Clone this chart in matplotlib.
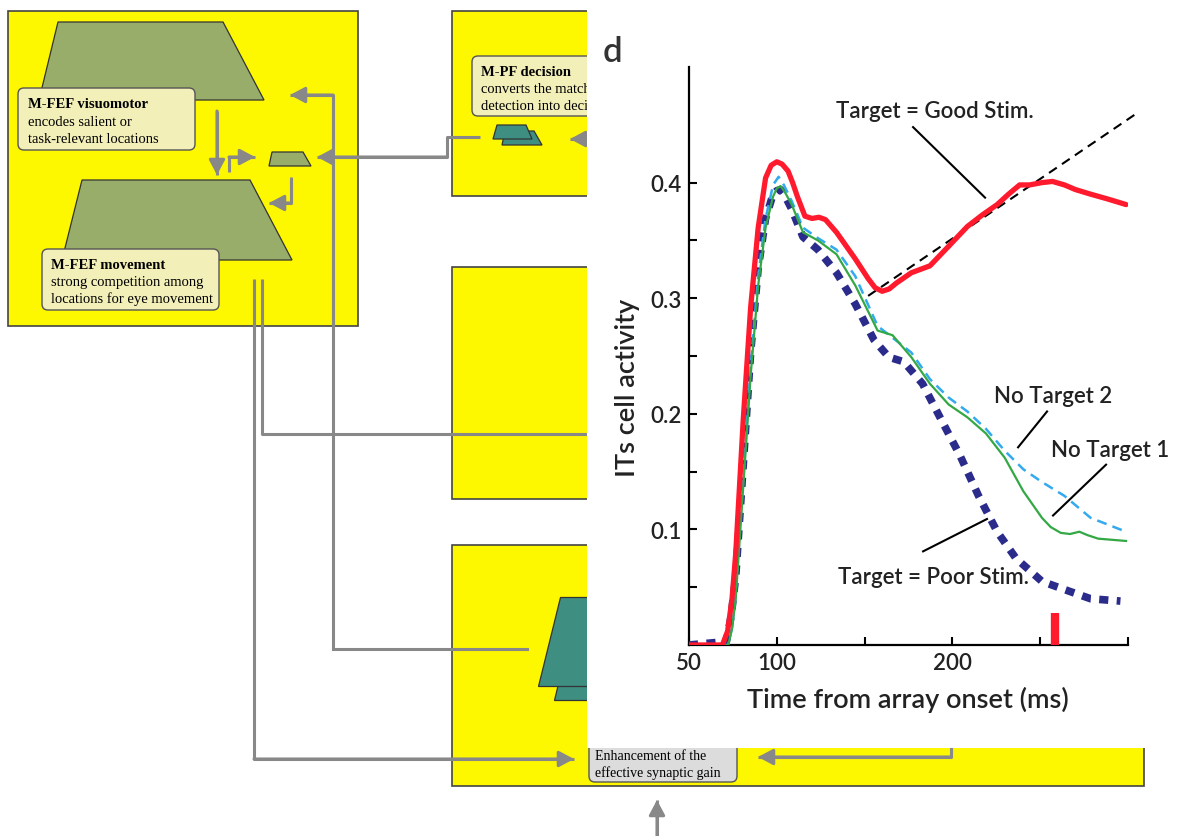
import matplotlib
matplotlib.use("Agg")
from matplotlib import pyplot as plt
from matplotlib.patches import Rectangle, Polygon, FancyBboxPatch
import numpy as np

# --- chart data (time in ms, ITs cell activity) ---
good_t = [50, 69, 72, 74.5, 76.6, 80.9, 85.1, 89.4, 93.6, 96.8, 100, 103, 106.4, 109, 111.7, 116,
          120, 124, 127.7, 134, 144.7, 152, 156, 160, 164, 168, 176.6, 187.2, 197.9, 208.5,
          217, 225.5, 232, 238.3, 244, 251, 257, 263.8, 270, 278.7, 288, 298.9]
good_y = [0, 0, 0.012, 0.04, 0.079, 0.195, 0.292, 0.361, 0.404, 0.415, 0.418, 0.416, 0.41, 0.40, 0.388, 0.371,
          0.369, 0.37, 0.368, 0.357, 0.334, 0.317, 0.309, 0.306, 0.308, 0.313, 0.322, 0.328, 0.345, 0.362,
          0.372, 0.381, 0.39, 0.398, 0.398, 0.400, 0.401, 0.398, 0.394, 0.390, 0.386, 0.381]

poor_t = [50, 71.3, 74, 76.6, 80.9, 85.1, 89.4, 93.6, 97.9, 100, 102.1, 104.5, 108.5, 114.9, 123.4, 134,
          144.7, 155.3, 163.8, 172.3, 183, 193.6, 204.3, 214.9, 225.5, 236.2, 251, 263.8, 278.7, 295.7]
poor_y = [0, 0.003, 0.025, 0.059, 0.156, 0.253, 0.326, 0.369, 0.390, 0.393, 0.394, 0.389, 0.377, 0.353,
          0.342, 0.322, 0.295, 0.264, 0.249, 0.245, 0.226, 0.195, 0.164, 0.129, 0.098, 0.075, 0.055,
          0.048, 0.040, 0.038]

notgt1_t = [50, 72.3, 74.5, 76.6, 80.9, 85.1, 89.4, 93.6, 97.9, 100, 102.1, 104.5, 108.5, 114.9, 123.4,
            134, 144.7, 157.4, 165.9, 176.6, 187.2, 197.9, 208.5, 219.1, 229.8, 240.4, 251, 256,
            261.7, 267, 272.3, 277, 283, 298.9]
notgt1_y = [0, 0, 0.014, 0.040, 0.137, 0.233, 0.311, 0.361, 0.388, 0.395, 0.397, 0.392, 0.381, 0.357,
            0.350, 0.338, 0.311, 0.272, 0.268, 0.249, 0.226, 0.208, 0.197, 0.183, 0.162, 0.133, 0.110,
            0.102, 0.097, 0.096, 0.098, 0.095, 0.092, 0.090]

notgt2_t = [50, 72.3, 74.5, 76.6, 80.9, 85.1, 89.4, 93.6, 97.9, 101, 104, 108.5, 114.9, 123.4, 134,
            144.7, 157.4, 176.6, 187.2, 197.9, 208.5, 219.1, 229.8, 240.4, 251, 263.8, 278.7, 298.9]
notgt2_y = [0, 0, 0.015, 0.044, 0.144, 0.241, 0.319, 0.369, 0.398, 0.405, 0.398, 0.384, 0.361, 0.352,
            0.342, 0.319, 0.276, 0.253, 0.230, 0.214, 0.202, 0.187, 0.168, 0.152, 0.141, 0.129, 0.110,
            0.098]

fit_t = [152, 306]
fit_y = [0.302, 0.461]

marker_t = 258.5
marker_h = 0.028

y_major = [0.1, 0.2, 0.3, 0.4]
y_minor = [0.05, 0.15, 0.25, 0.35]
x_major = [50, 100, 200]
x_minor = [150, 250, 300]

# --- colours ---
YELLOW = "#fdf700"
OLIVE = "#98ad6a"
TEAL = "#3f8e82"
PALE = "#f2efb8"
GREY = "#888888"
EDGE = "#444444"

fig = plt.figure(figsize=(11.81, 8.37), dpi=100)
fig.patch.set_facecolor("white")

# background diagram in pixel coordinates
bg = fig.add_axes([0, 0, 1, 1])
bg.set_xlim(0, 1181)
bg.set_ylim(837, 0)
bg.axis("off")


def box(x0, y0, x1, y1, fc=YELLOW, z=1):
    bg.add_patch(Rectangle((x0, y0), x1 - x0, y1 - y0, fc=fc, ec=EDGE, lw=1.2, zorder=z))


def poly(pts, fc, z=2):
    bg.add_patch(Polygon(pts, closed=True, fc=fc, ec="#333333", lw=0.9, zorder=z))


def label(x0, y0, x1, y1, fc=PALE):
    bg.add_patch(FancyBboxPatch((x0, y0), x1 - x0, y1 - y0,
                                boxstyle="round,pad=0,rounding_size=6",
                                fc=fc, ec="#555555", lw=1.0, zorder=3))


def arrow(pts, head=True):
    xs = [p[0] for p in pts]
    ys = [p[1] for p in pts]
    bg.plot(xs, ys, color=GREY, lw=2.2, zorder=4, solid_capstyle="butt")
    if head:
        bg.annotate("", xy=pts[-1], xytext=pts[-2],
                    arrowprops=dict(arrowstyle="-|>,head_length=0.6,head_width=0.32",
                                    mutation_scale=15, color=GREY, lw=2.2,
                                    shrinkA=0, shrinkB=0), zorder=5)


serif = ["Liberation Serif", "DejaVu Serif"]

# yellow panels
box(8, 12, 358, 327)
box(452, 12, 760, 197)
box(452, 268, 760, 500)
box(452, 546, 1144, 787)

# M-FEF visuomotor
poly([(58, 23), (223, 23), (264, 101), (39, 101)], OLIVE)
label(18, 89, 195, 151)
bg.text(28, 104, "M-FEF visuomotor", family=serif, fontsize=10.5, weight="bold", va="center", zorder=6)
bg.text(28, 122, "encodes salient or", family=serif, fontsize=10.5, va="center", zorder=6)
bg.text(28, 139, "task-relevant locations", family=serif, fontsize=10.5, va="center", zorder=6)

poly([(272, 153), (303, 153), (311, 167), (269, 167)], OLIVE)

# M-FEF movement
poly([(82, 181), (250, 181), (292, 261), (62, 261)], OLIVE)
label(42, 250, 219, 311)
bg.text(51, 265, "M-FEF movement", family=serif, fontsize=10.5, weight="bold", va="center", zorder=6)
bg.text(51, 282, "strong competition among", family=serif, fontsize=10.5, va="center", zorder=6)
bg.text(51, 299, "locations for eye movement", family=serif, fontsize=10.5, va="center", zorder=6)

# M-PF decision
label(472, 57, 760, 117)
bg.text(481, 72, "M-PF decision", family=serif, fontsize=10.5, weight="bold", va="center", zorder=6)
bg.text(481, 89, "converts the match", family=serif, fontsize=10.5, va="center", zorder=6)
bg.text(481, 106, "detection into decision", family=serif, fontsize=10.5, va="center", zorder=6)
poly([(505, 132), (534, 132), (542, 146), (502, 146)], TEAL)
poly([(497, 126), (526, 126), (532, 140), (493, 140)], TEAL)

# lower teal stack
poly([(576, 610), (760, 610), (760, 701), (554, 701)], TEAL)
poly([(560, 598), (760, 598), (760, 687), (538, 687)], TEAL)

# enhancement box
label(589, 700, 737, 783, fc="#dcdcdc")
bg.text(595, 756, "Enhancement of the", family=serif, fontsize=10, va="center", zorder=6)
bg.text(595, 773, "effective synaptic gain", family=serif, fontsize=10, va="center", zorder=6)

# arrows
arrow([(217, 112), (217, 176)])
arrow([(229, 173), (229, 158), (255, 158)])
arrow([(291, 178), (291, 204), (269, 204)])
arrow([(480, 138), (447, 138), (447, 158), (317, 158)])
arrow([(333, 650), (333, 96), (290, 96)])
bg.plot([333, 527], [650, 650], color=GREY, lw=2.2, zorder=4)
arrow([(254, 280), (254, 760), (574, 760)])
arrow([(262, 280), (262, 435), (590, 435)], head=False)
arrow([(600, 140), (570, 140)])
arrow([(951, 740), (951, 758), (758, 758)])
arrow([(657, 837), (657, 801)])

# white panel holding the chart
bg.add_patch(Rectangle((587, 0), 594, 749, fc="white", ec="none", zorder=20))
bg.text(603, 52, "d", family=["Lato", "DejaVu Sans"], fontsize=25, weight="semibold",
        color="#333333", va="center", ha="left", zorder=21)

# --- chart ---
sans = ["Lato", "DejaVu Sans"]
ax = fig.add_axes([689 / 1181, (837 - 646) / 837, (1128 - 689) / 1181, (646 - 68) / 837])
ax.patch.set_alpha(0)
ax.set_xlim(50, 300)
ax.set_ylim(0, 0.5)

ax.plot(fit_t, fit_y, color="black", lw=1.5, ls=(0, (4.5, 3)), clip_on=False, zorder=3)
ax.plot(poor_t, poor_y, color="#2b2b8c", lw=5.5, ls=(0, (1.2, 1.1)), solid_capstyle="butt",
        dash_capstyle="butt", zorder=4)
ax.plot(notgt2_t, notgt2_y, color="#33aaee", lw=1.8, ls=(0, (4, 2.5)), zorder=5)
ax.plot(notgt1_t, notgt1_y, color="#33a844", lw=1.6, zorder=6)
ax.plot(good_t, good_y, color="#ff1a2e", lw=3.8, zorder=7, solid_capstyle="round",
        solid_joinstyle="round")
ax.vlines(marker_t, 0, marker_h, color="#ff1a2e", lw=6, zorder=7)

for s in ["top", "right"]:
    ax.spines[s].set_visible(False)
for s in ["left", "bottom"]:
    ax.spines[s].set_linewidth(1.6)

ax.set_yticks(y_major)
ax.set_yticks(y_minor, minor=True)
ax.set_yticklabels([str(v) for v in y_major])
ax.set_xticks(x_major)
ax.set_xticks(x_minor, minor=True)
ax.set_xticklabels([str(v) for v in x_major])
ax.tick_params(which="both", direction="in", length=6, width=1.5)
ax.tick_params(axis="both", labelsize=16, pad=5)
for t in ax.get_xticklabels() + ax.get_yticklabels():
    t.set_family(sans)
    t.set_weight("semibold")
    t.set_color("#222222")

ax.set_xlabel("Time from array onset (ms)", family=sans, fontsize=19.5, weight="semibold",
              color="#222222", labelpad=1)
ax.set_ylabel("ITs cell activity", family=sans, fontsize=19.5, weight="semibold", color="#222222")
ax.xaxis.set_label_coords(0.499, -0.07)
ax.yaxis.set_label_coords(-0.112, 0.446)

ann = dict(family=sans, fontsize=16, weight="semibold", color="#222222", ha="center", va="center")
ax.text(190.1, 0.462, "Target = Good Stim.", **ann)
ax.plot([177.6, 218.6], [0.448, 0.387], color="black", lw=1.5)
ax.text(257.3, 0.216, "No Target 2", **ann)
ax.plot([253.9, 237.4], [0.202, 0.171], color="black", lw=1.5)
ax.text(289.7, 0.169, "No Target 1", clip_on=False, **ann)
ax.plot([287.5, 257.3], [0.156, 0.112], color="black", lw=1.5)
ax.text(189, 0.059, "Target = Poor Stim.", **ann)
ax.plot([219.7, 183.3], [0.109, 0.081], color="black", lw=1.5)

fig.savefig("out.png", dpi=100)
